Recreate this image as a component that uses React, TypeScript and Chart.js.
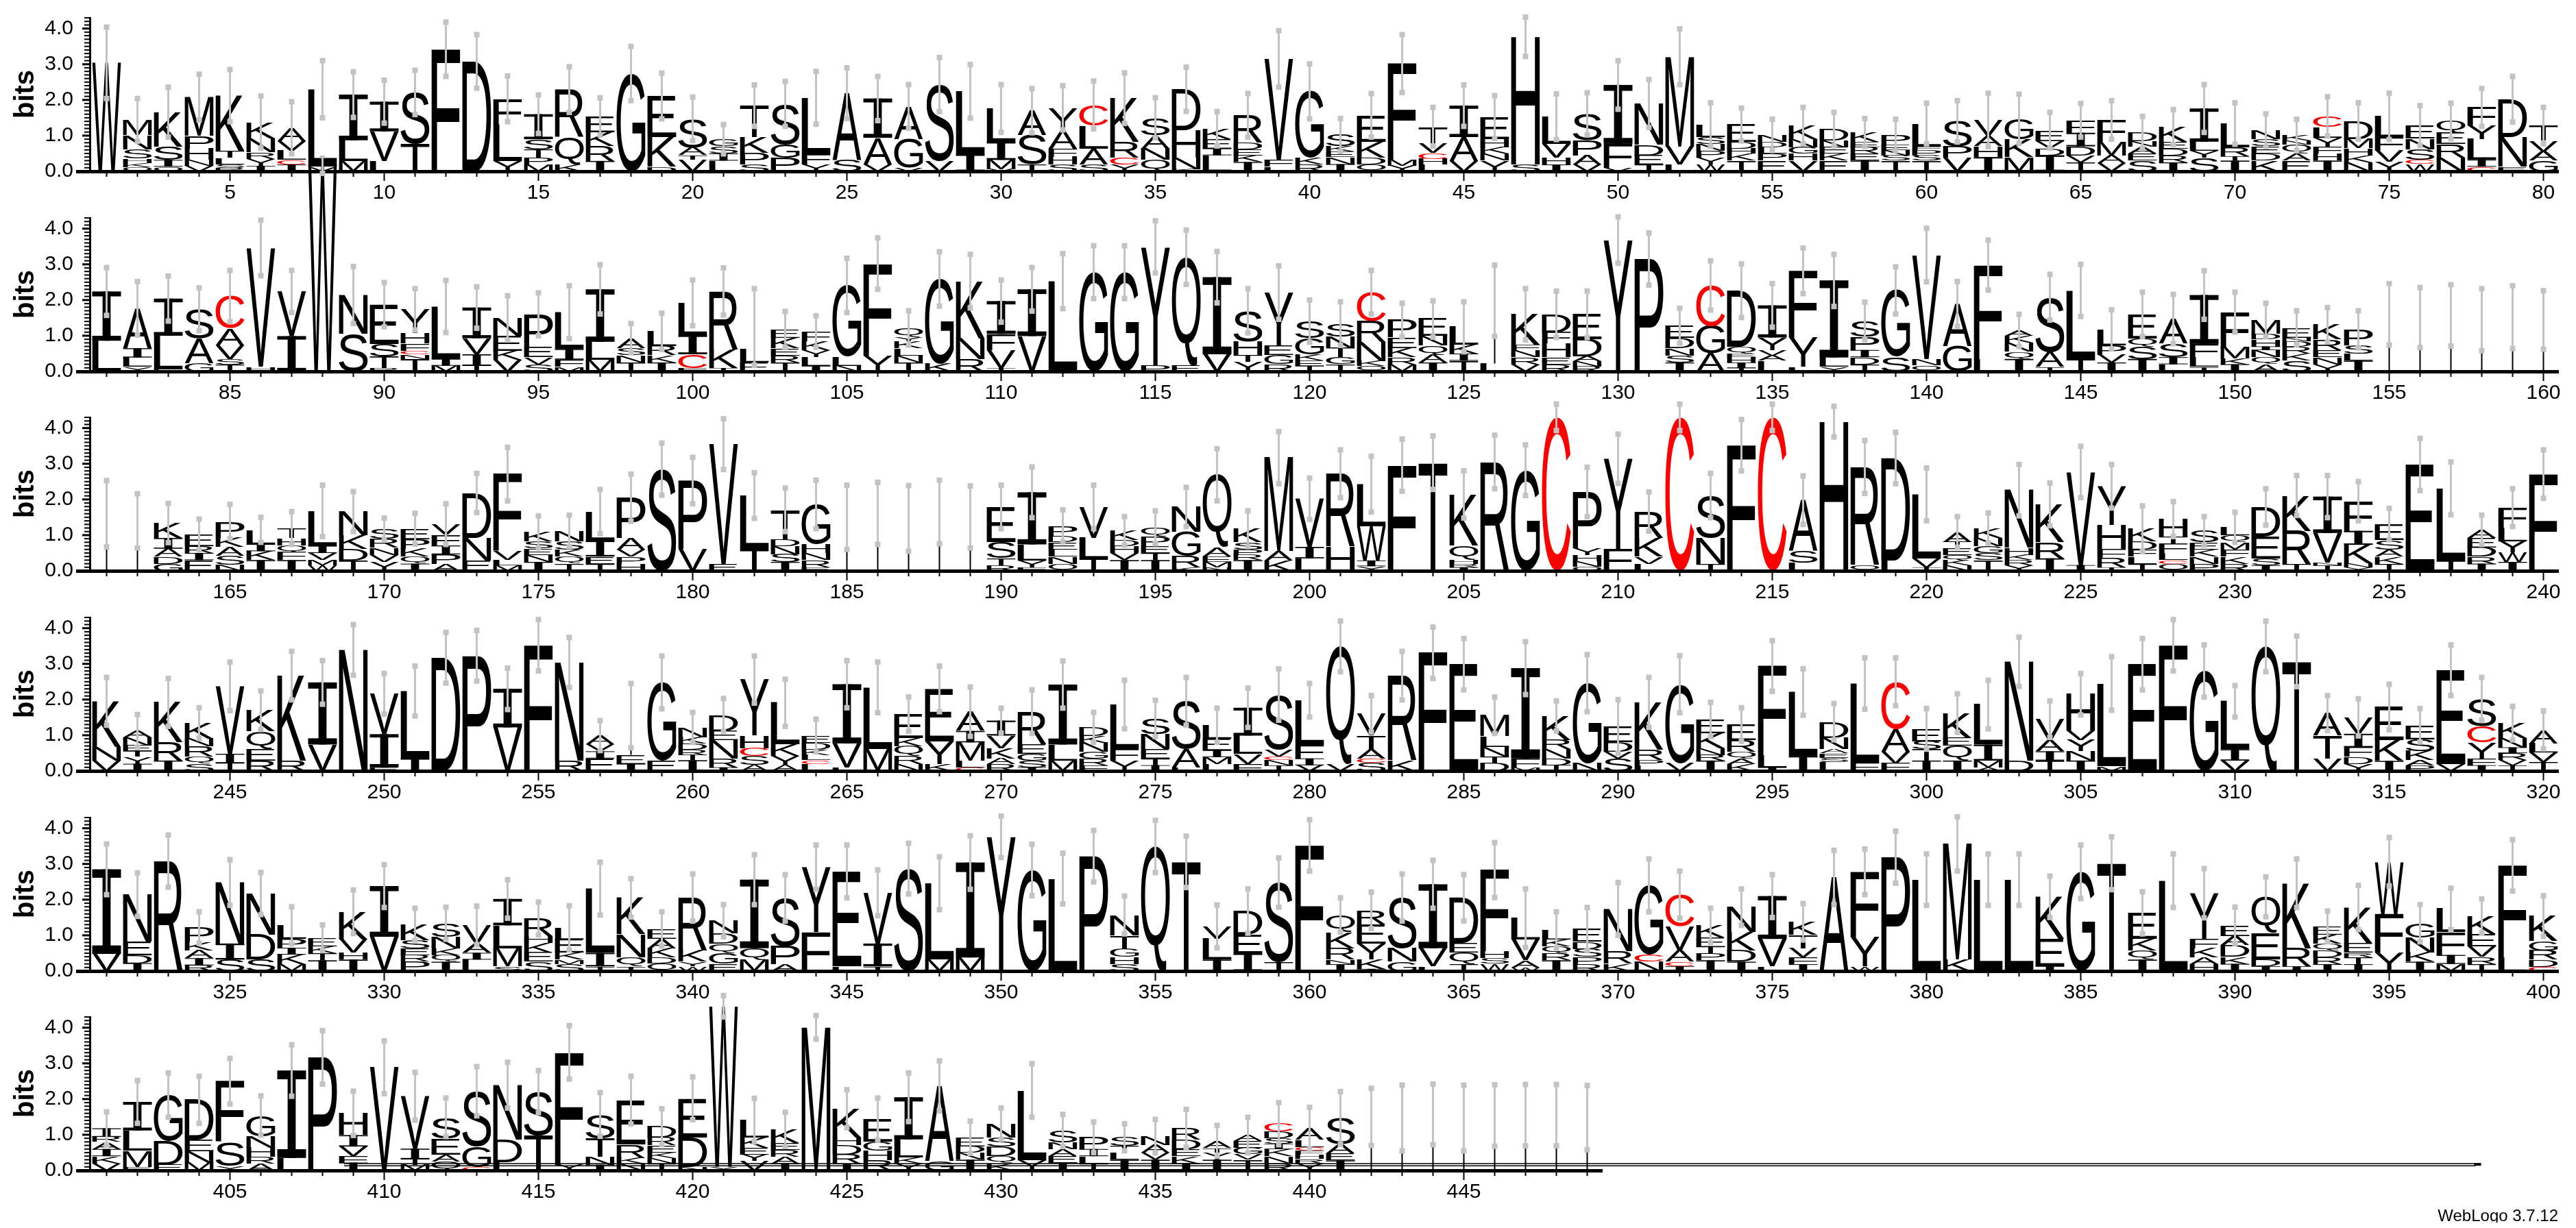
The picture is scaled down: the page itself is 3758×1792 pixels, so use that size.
import { useEffect, useRef } from "react";
import { Chart, registerables } from "chart.js";

Chart.register(...registerables);

// ---------------- DATA (letters bottom -> top, heights in bits) ----------------
const ROW1_STACKS = [
  "W3.04", "Q.12K.12H.13S.25N.4M.42", "Q.13I.19S.38K.96", "V.15N.17H.32P.35M1.09", "R.1S.1L.18T.19K1.55",
  "I.15Y.2R.18N.4K.45", "I.19C.13L.26V.26A.38", "V.13L2.17", "M.29L.58I1.28", "L.29V.83I.83",
  "T.77S1.44", "F3.42", "D3.08", "Y.29L1.02F.72", "M.19P.19T.23S.29I.7",
  "K.19Q.77R1.33", "I.29R.42K.38E.45", "G2.74", "D.13K.83E1.15", "V.32T.13A.22S.8",
  "L.3I.2S.2G.2", "S.19P.32K.45T.88", "P.38G.38S1.13", "Y.19F.29L1.58", "S.32A1.87",
  "V.19A.75I1.1", "V.1G.8A.92", "V.29S2.14", "I.48L1.76", "V.06M.26I.51L.93",
  "T.19S.83A.68", "S.19H.22F.22A.51Y.64", "S.19A.45L.64C.58", "Y.19C.19R.45K1.22", "Q.32N.32A.38S.48",
  "K.06N.32H.77D1.15", "L.45I.19E.26K.29", "I.26K.19E.16D.19R.77", "L.13F.19V2.83", "R.19K.19G1.86",
  "I.2N.2E.15K.15S.32", "Q.19D.19K.45E.74", "Y.16M.16F2.7", "L.19H.16C.16V.26T.48", "V.29A.67I.88",
  "Y.3N.19K.19H.22E.62", "S.19H3.58", "I.19H.19V.38L.77", "V.19A.26P.42S.74", "V.1F.67I1.65",
  "T.19E.26D.3N1.15", "L.19V.51M2.51", "W.19Y.19P.19N.19S.2L.35", "T.3K.19H.15D.19E.48", "E.3P.19L.19D.15N.19",
  "V.3H.19G.19N.22K.38", "E.3K.19E.19N.19D.31", "I.3E.19R.19E.15K.26", "T.3S.15N.15E.15P.27", "T.3S.15P.15F.1L.64",
  "V.38P.32S.7", "I.4H.3A.3V.44", "M.4K.5G.57", "I.45D.2V.2E.3", "T.25V.2D.25I.38F.35",
  "V.22A.22M.38F.62", "S.3E.2A.2N.15D.24", "I.25R.19D.19E.19K.42", "S.38Y.19L.26I.93", "I.3T.12R.25L.67",
  "K.3D.2E.2S.2N.25", "E.3A.2Q.25N.12K.15", "I.3H.2F.2Y.25L.3C.29", "N.25K.2H.2M.26D.5", "Y.26V.32F.38L.58",
  "W.2C.12S.3N.3E.36", "N.38R.38E.32Q.33", "C.13I.19L.58Y.38F.51", "E.13N.83D1.06", "G.3A.26V.3T.42",
];
const ROW1_ERRORS = [
  1.0, .6, .7, .64, .73, .73, .73, .8, .64, .6, .62, .76, .75, .64, .54, .64, .52, .76, .64, .61,
  .41, .58, .63, .74, .71, .62, .61, .76, .75, .67, .62, .62, .67, .71, .56, .62, .48, .61, .79, .77,
  .46, .61, .81, .54, .58, .6, .55, .64, .59, .68, .67, .78, .61, .46, .44, .51, .47, .39, .44, .57,
  .58, .75, .69, .5, .47, .54, .45, .49, .67, .58, .46, .44, .55, .51, .65, .56, .5, .53, .64, .51,
];

const ROW2_STACKS = [
  "L.86I1.38", "Y.13L.26I.26A1.12", "E.06L.94I1.04", "G.22A.7S.82", "T.19S.16V.38A.48C.9",
  "H.13V3.33", "I.99V1.25", "W5.8", "S1.05N1.09", "R.1T.32S.35E1.1",
  "T.35N.13C.1F.2H.29Y.67", "M.16I.19L1.47", "T.16I.32V.45I.86", "V.32K.26E.42N.5", "S.2V.2E.3P.9",
  "M.13F.2I.3L1.03", "M.32L.51I1.47", "T.25N.2S.2A.28", "I.25K.2R.26L.41", "F.1C.38I.54L.9",
  "T.1K.51R1.63", "E.25L.4|.6", "T.25R.2E.2K.3E.23", "I.15L.25Y.2K.25F.27", "N.16L.25G2.0",
  "Y.45F2.57", "T.25N.2L.2K.2Y.12Q.25", "K.22G2.37", "R.35N.58K1.6", "T.1V.5F.45I.92",
  "V.99I1.31", "L2.53", "G2.78", "G2.78", "P.16Y3.33",
  "E.16Q3.04", "V.48I2.16", "Y.26T.2H.38S.86", "R.2G.26E.26Y1.49", "T.15E.15K.18G.45S.48",
  "T.2G.2T.26N.32S.36", "Q.15K.14N.54R.58C.81", "M.2R.2K.26E.3P.48", "I.25A.22Q.26N.26E.48", "T.3I.2K.24L.51",
  "L.22|1.76", "V.2R.2N.2F.14K.86", "R.2E.2H.38F.32D.5", "R.14N.14A.14D.48E.7", "Y3.68",
  "P3.15", "I.25S.2N.2D.3E.33", "A.51G.77C1.13", "T.1I.15H.15E.1Q.19D1.57", "L.3A.15V.15Y.35I.9",
  "L.13Y.83F1.86", "Y.13L.26I2.16", "T.2D.2I.2P.37S.44", "S.41G1.86", "Q.17N.18V2.91",
  "G.7A1.19", "L.35F2.63", "I.35Q.2N.25K.2A.15", "T.13A.41S1.54", "T.35L1.92",
  "I.25V.22P.26L.45", "I.35S.35Q.23E.67", "L.2I.2S.38A.69", "T.13L.26F.38I1.37", "I.2K.16M.32F.98",
  "A.2Q.2N.2I.1H.2D.15M.39", "S.3K.2R.2D.15N.1E.27", "Y.2N.2E.2R.3K.41", "I.3L.2S.23P.45", "|1.6",
  "|1.51", "|1.57", "|1.45", "|1.52", "|1.44",
];
const ROW2_ERRORS = [
  .67, .75, .63, .6, .72, .78, .59, .25, .8, .62, .58, .73, .58, .62, .6, .74, .69, .41, .51, .64,
  .66, 1.07, .5, .44, .76, .72, .48, .76, .75, .59, .61, .77, .74, .74, .73, .76, .72, .62, .75, .59,
  .61, .61, .47, .51, .7, 1.0, .72, .65, .65, .65, .73, .49, .69, .75, .61, .64, .73, .53, .66, .75,
  .63, .7, .45, .64, .73, .55, .62, .69, .68, .56, .47, .48, .48, .52, .86, .84, .86, .87, .88, .82,
];

const ROW3_STACKS = [
  "|1.6", "|1.4", "G.2D.2A.22I.3K.42", "E.3I.2R.2E.32", "N.16S.26A.25K.26P.45",
  "I.3K.25I.2L.4", "I.3F.22Q.2H.2T.28", "W.15M.15V.2I.2L.98", "T.29D.32K.38N.67", "Y.25V.2N.2R.25S.28",
  "I.2Q.2K.22P.26E.3", "A.2P.26I.25F.3V.3", "E.29N.64D1.25", "M.15L.15V.25F2.16", "I.25N.2E.18S.2K.26",
  "T.2Q.2K.2S.22N.3", "T.2E.2I.45L.81", "H.2P.2V.2A.33P1.12", "S2.85", "V.61P1.92",
  "E.19V3.36", "T.61L1.5", "I.25S.22N.22D.2T.82", "E.1R.2N.2H.25G1.11", "|1.5",
  "|1.61", "|1.47", "|1.65", "|1.51", "R.15T.2S.45E.99",
  "F.1Y.19L.45I1.46", "Q.2N.2L.2E.2D.18P.28", "T.35L.58V.86", "I.3V.2H.2D.16K.26", "I.3T.2E.2P.26Q.26",
  "K.1R.32G.67N.7", "N.1M.15E.15A.25Q2.04", "I.3R.15P.15S.2K.38", "K.29A.26M2.62", "L.35I.32V1.35",
  "H.67R2.05", "Y.13I.16W.96L1.18", "F2.96", "T3.03", "I.1R.1H.13Q.38K1.43",
  "R3.05", "G2.82", "C4.3", "Q.12N.15H.17Y.2P1.57", "F.61Y2.53",
  "L.2V.2K.51R.75", "C4.3", "T.19N.74S1.18", "F3.52", "C4.3",
  "L.22S.32A1.44", "H4.18", "Q.16R2.75", "L.29D2.87", "T.1V.25L1.79",
  "N.15K.15Q.15E.2T.16A.28", "T.3S.2G.2N.22K.28", "Y.15R.15K.15H.2N1.61", "I.35R.45K1.06", "I.16V2.61",
  "T.1R.26F.25H.67Y1.09", "T.2L.2F.2D.22K.36", "Q.2C.1L.2F.26T.2H.49", "P.2N.2K.2E.2S.32", "R.2K.2F.2M.2Q.2L.22",
  "I.15S.2E.61D.83", "T.19R.93K.99", "T.15N.08V.83I1.02", "Y.1N.12K.51I.39F.83", "T.2K.2A.2S.26E.45",
  "E2.98", "T.29L2.02", "I.2R.2D.26E.26A.23", "I.25W.26Y.32L.38F.56", "F2.71",
];
const ROW3_ERRORS = [
  .93, .76, .55, .43, .48, .35, .46, .72, .56, .3, .43, .57, .55, .75, .45, .44, .62, .66, .73, .65,
  .71, .64, .61, .68, .9, .87, .92, .89, .87, .61, .71, .45, .61, .4, .46, .55, .73, .5, .73, .58,
  .67, .78, .73, .75, .66, .75, .71, .37, .69, .69, .55, .37, .62, .72, .37, .68, .43, .74, .72, .74,
  .43, .42, .72, .6, .72, .61, .64, .49, .4, .42, .51, .56, .59, .55, .44, .73, .74, .41, .53, .68,
];

const ROW4_STACKS = [
  "V.29N.38K1.28", "I.2Y.2T.15E.16N.22A.19", "I.29R.51K1.12", "S.2Q.2R.29N.22K.43", "T.22I.26V1.89",
  "R.29E.32Q.51K.58", "R.29K2.38", "V.74I1.74", "N3.39", "E.1I.93V1.13",
  "I.35L1.89", "D3.17", "P3.23", "V1.22I1.08", "F3.52",
  "R.29N2.75", "E.35I.2V.2A.24", "I.2E.25|1.1", "E.29G2.19", "I.3T.15R.15D.16K.19N.27",
  "I.1R.25N.51E.26D.45", "A.16S.26C.22H.35Y1.57", "A.16Y.26K.32L1.17", "L.2C.1L.15K.15D.19E.2", "L.1V.67I1.66",
  "M.61L1.73", "N.19R.22Q.29K.22E.67", "K.19Y.64E1.47", "C.1L.19M.51I.32A.54", "R.19A.16K.29V.35I.42",
  "I.1S.19G.19E.26R.92", "M.29L.45I1.68", "F.15R.19G.19N.26K.19D.24", "Y.29F.32L1.25", "I.16T.19E.26N.42S.44",
  "L.1A.51S1.34", "L.2M.19I.19E.32L.38", "F.2V.28L.51I.78", "T.15N.15C.1V.2S1.54", "V.16I.19F.38L1.25",
  "V.19Q3.3", "S.22C.13A.26T.38V.61", "K.29R2.38", "F3.31", "E2.99",
  "D.22T.19N.26L.3M.59", "M.1F.25I2.53", "T.16D.19N.26R.26K.67", "N.22G2.24", "S.35V.19D.26E.45",
  "L.15P.15R.29K1.33", "V.22G2.21", "I.29R.16N.19K.42E.38", "K.2A.15Q.19R.32E.44", "I.1L.34F2.5",
  "I.42L1.79", "L.25S.12E.12A.12N.32D.45", "F.22L2.23", "F.22V.32A.64C1.32", "I.29T.32S.22E.35",
  "I.29Q.42E.22K.69", "A.1M.19I.45L1.12", "D.29N2.77", "T.29I.26A.32V.58", "I.29N.26Y.32V.26H1.02",
  "M.13L2.32", "E2.99", "F3.52", "G2.8", "V.29I.32L1.34",
  "Q3.49", "T3.07", "V.35T.64A.63", "Y.2D.2F.26I.38V.46", "I.28K.58E.93",
  "P.15A.15K.26S.32E.4", "V.19E2.63", "I.16F.19Y.45C.45S.77", "T.15V.15R.2I.16N.26K.42", "T.25V.26L.26A.38",
];
const ROW4_ERRORS = [
  .67, .46, .67, .43, .68, .54, .68, .61, .71, .57, .7, .71, .71, .58, .72, .7, .42, .9, .74, .42,
  .46, .66, .66, .46, .66, .71, .48, .64, .69, .35, .61, .66, .42, .68, .51, .67, .48, .55, .72, .47,
  .71, .51, .68, .72, .72, .51, .74, .42, .8, .75, .7, .8, .48, .47, .71, .65, .51, .72, .67, .57,
  .54, .68, .69, .51, .58, .75, .72, .72, .73, .44, .71, .71, .49, .52, .64, .47, .71, .6, .47, .53,
];

const ROW5_STACKS = [
  "V.48I2.37", "I.22D.22E.38N1.32", "R3.08", "R.16I.2A.22K.22P.42", "S.32I.45N1.71",
  "S.32D.7N1.15", "M.2K.26I.19P.25L.38", "I.3T.2K.2E.23", "I.32H.19V.38K.77", "V.96I1.42",
  "P.26R.19E.19S.22K.45", "I.26Q.19K.19N.32S.38", "L.32I.19A.26V.51", "S.13M.51L.64I.74", "S.26E.26K.26H.19R.5",
  "S.19M.13K.19E.38L.32", "T.13I.38L1.8", "T.13Q.26N.64K1.02", "Q.22D.16K.26A.26E.28", "W.13Y.13K.31R1.49",
  "E.2G.3Q.26D.29N.36", "M.32Q.32I1.92", "A.19P.51S1.35", "F1.09Y1.82", "L.13E2.66",
  "T.13I.64V1.42", "S2.87", "M.32L2.14", "M.38I2.66", "Y3.76",
  "G2.83", "L2.59", "P3.22", "S.2H.2G.22T.38N.57", "Q3.49",
  "T3.06", "I.32L.58V.35", "I.5E.51D.67", "T.25S2.23", "F3.52",
  "I.19N.13R.32K.45Q.48", "I.06K.26Y.45E.54R.39", "G.26N.38S1.42", "L.13V.51I1.79", "T.2Q.32E.26D1.27",
  "W.2S.16H.19F2.28", "W.1A.2V.58L.6", "I.3R.2Q.2K.19L.26", "R.2P.2S.22D.2E.36", "K.2R.35N1.19",
  "N.26C.19G1.95", "I.13C.13A.32V.67C.89", "I.3P.19T.19E.26K.34", "I.26D.32K.51N.7", "L.13V.77I1.2",
  "I.19F.19V.26T.38K.36", "A2.62", "W.13Y.83F1.82", "P3.19", "L2.56",
  "K.32M3.24", "L2.56", "L2.56", "I.13E.77K1.18", "G2.78",
  "T3.02", "I.32Q.26K.32E.73", "L2.53", "H.19A.19K.26F.26Y1.28", "I.2K.2D.32A.26E.3",
  "I.13D.19E.74Q1.02", "I.13R.51K1.82", "I.19R.19D.19Q.19K.26E.23", "I.19T.19R.13E.26K1.01", "Y.51F1.09W1.46",
  "I.26K.26N.42G.4", "M.2I.25F.64L.65", "T.2R.2V.29E.35K.5", "L.38F2.58", "C.12D.2R.26G.26K.7",
];
const ROW5_ERRORS = [
  .71, .61, .73, .44, .64, .59, .52, .36, .61, .6, .45, .45, .54, .54, .46, .62, .74, .54, .48, .66,
  .45, .7, .65, .62, .74, .64, .71, .74, .75, .58, .72, .71, .72, .53, .73, .72, .6, .62, .69, .72,
  .48, .51, .66, .67, .65, .77, .82, .51, .6, .74, .74, .66, .48, .51, .6, .51, .76, .64, .73, .72,
  .76, .72, .72, .58, .75, .74, .59, .75, .69, .51, .56, .68, .43, .62, .68, .52, .58, .48, .72, .57,
];

const ROW6_STACKS = [
  "V.2K.2I.2A.2R.14I.24", "E.1M.45L.57I.8", "E.16D.67G1.28", "M.22N.32E.32D1.12", "Y.13S.67F1.7",
  "A.19R.19H.26N.32G.58", "L.35I2.45", "P3.17", "I.22F.19V.26I.32H.61", "V2.89",
  "M.16T.16I.29V1.47", "Q.25A.2E.45S.59", "C.09G.58S1.55", "L.23D.64N1.52", "T.99S1.22",
  "Y.16F3.15", "I.16N.23T.51S.67", "N.19K.16R.38E1.24", "T.2N.15K.15E.2R.22D.31", "N.1D.83E1.09",
  "Y.1W4.5", "V.26Y.19E.19K.29L.48", "I.2A.19R.19E.19K.38", "M4.01", "I.19R.26D.26H.22K.8",
  "R.29H.26G.25E.64", "Y.19K.17L.51I1.18", "G.26A2.11", "I.3N.19D.19E.25", "K.2Q.2D.26S.26N.39",
  "Y.29L1.95", "I.22E.19A.19N.19S.33", "T.2L.2I.2P.33", "I.3L.2T.19S.24", "I.3V.2A.22N.24",
  "I.2K.2E.2D.26R.32", "I.3Y.2T.13A.2", "T.3V.15G.19E.19A.16", "R.2N.2K.2I.15S.15D.19C.22", "Y.2R.12H.12F.12C.1L.2A.32",
  "I.28E.19A.26S.74", "|1.5", "|1.47", "|1.57", "|1.47",
  "|1.54", "|1.55", "|1.55", "|1.48",
];
const ROW6_ERRORS = [
  .46, .6, .62, .66, .64, .55, .72, .75, .62, .74, .67, .54, .69, .64, .59, .75, .61, .67, .5, .6,
  .3, .61, .48, .33, .53, .59, .68, .7, .45, .44, .75, .45, .43, .38, .47, .53, .43, .5, .59, .59,
  .74, .8, .92, .85, .92, .86, .86, .86, .9,
];

// trailing double rule of the last row (positions, bits)
const GAP_LINE_FROM = 408.7;
const GAP_LINE_TO = 477.8;
const GAP_LINE_BITS = [0.13, 0.19];

const ROW_STARTS = [1, 81, 161, 241, 321, 401];
const POSITIONS_PER_ROW = 80;
const LAST_POSITION = 449;
const Y_MAX = 4.32;
const Y_AXIS_TITLE = "bits";
const CREDIT = "WebLogo 3.7.12";

const ROWS = [
  { stacks: ROW1_STACKS, errors: ROW1_ERRORS },
  { stacks: ROW2_STACKS, errors: ROW2_ERRORS },
  { stacks: ROW3_STACKS, errors: ROW3_ERRORS },
  { stacks: ROW4_STACKS, errors: ROW4_ERRORS },
  { stacks: ROW5_STACKS, errors: ROW5_ERRORS },
  { stacks: ROW6_STACKS, errors: ROW6_ERRORS },
];

// ---------------- LAYOUT ----------------
const CANVAS_W = 3742;
const CANVAS_H = 400;
const TOP_PAD = 90;
const X_AXIS_H = 85;
const CHART_BOTTOM = CANVAS_H - X_AXIS_H; // 315
const FIRST_BASELINE = 250;
const ROW_STEP = 291.67;
const FONT_FAMILY = "'Liberation Sans', Arial, sans-serif";
const GLYPH_FONT = "200px 'Liberation Sans', Arial, sans-serif";
const ERR_COLOR = "#c3c3c3";

type Layer = { ch: string; v: number };

function parseStack(s: string): Layer[] {
  const out: Layer[] = [];
  const re = /([A-Z|])(\d*\.?\d+)/g;
  let m: RegExpExecArray | null;
  while ((m = re.exec(s))) out.push({ ch: m[1], v: parseFloat(m[2]) });
  return out;
}

const metricCache: Record<string, { l: number; r: number; a: number; d: number }> = {};

function drawGlyph(ctx: CanvasRenderingContext2D, ch: string, x: number, y: number, w: number, h: number) {
  ctx.save();
  ctx.fillStyle = ch === "C" ? "#ff0000" : "#000000";
  if (ch === "|") {
    ctx.fillRect(x + w / 2 - 1, y, 2, h);
    ctx.restore();
    return;
  }
  if (ch === "I") {
    const bh = Math.max(0.8, h * 0.1);
    const sw = w * 0.28;
    ctx.fillRect(x, y, w, bh);
    ctx.fillRect(x, y + h - bh, w, bh);
    ctx.fillRect(x + (w - sw) / 2, y, sw, h);
    ctx.restore();
    return;
  }
  ctx.font = GLYPH_FONT;
  ctx.textAlign = "left";
  ctx.textBaseline = "alphabetic";
  let m = metricCache[ch];
  if (!m) {
    const t = ctx.measureText(ch);
    m = { l: t.actualBoundingBoxLeft, r: t.actualBoundingBoxRight, a: t.actualBoundingBoxAscent, d: t.actualBoundingBoxDescent };
    metricCache[ch] = m;
  }
  const gw = m.l + m.r;
  const gh = m.a + m.d;
  ctx.translate(x, y);
  ctx.scale(w / gw, h / gh);
  ctx.fillText(ch, m.l, m.a);
  ctx.restore();
}

function buildConfig(rowIndex: number): any {
  const row = ROWS[rowIndex];
  const start = ROW_STARTS[rowIndex];
  const isLast = rowIndex === ROWS.length - 1;
  const parsed = row.stacks.map(parseStack);
  const totals = parsed.map((p) => p.reduce((a, b) => a + b.v, 0));
  const nLayers = Math.max(...parsed.map((p) => p.length));
  const labels = Array.from({ length: POSITIONS_PER_ROW }, (_, i) => String(start + i));
  const lastIdx = Math.min(POSITIONS_PER_ROW - 1, LAST_POSITION - start);

  const datasets: any[] = [];
  for (let k = 0; k < nLayers; k++) {
    datasets.push({
      data: labels.map((_, i) => (parsed[i] && parsed[i][k] ? parsed[i][k].v : null)),
      letters: labels.map((_, i) => (parsed[i] && parsed[i][k] ? parsed[i][k].ch : "")),
      backgroundColor: "rgba(0,0,0,0)",
      borderWidth: 0,
      categoryPercentage: 1,
      barPercentage: 1,
    });
  }

  const logoPlugin = {
    id: "logo" + rowIndex,
    afterDatasetsDraw(chart: any) {
      const ctx: CanvasRenderingContext2D = chart.ctx;
      const xs = chart.scales.x;
      const ys = chart.scales.y;
      const { left, bottom } = chart.chartArea;
      // letters
      chart.data.datasets.forEach((ds: any, k: number) => {
        const meta = chart.getDatasetMeta(k);
        meta.data.forEach((el: any, i: number) => {
          const ch = ds.letters[i];
          if (!ch) return;
          const p = el.getProps(["x", "y", "base", "width"], true);
          const h = p.base - p.y;
          if (!(h > 0.4)) return;
          drawGlyph(ctx, ch, p.x - p.width / 2 + 1.5, p.y, p.width - 3, h);
        });
      });
      // trailing double rule
      if (isLast) {
        ctx.save();
        ctx.strokeStyle = "#000";
        ctx.lineWidth = 1.5;
        const x0 = xs.getPixelForValue(GAP_LINE_FROM - start);
        const x1 = xs.getPixelForValue(GAP_LINE_TO - start);
        GAP_LINE_BITS.forEach((b) => {
          const yy = ys.getPixelForValue(b);
          ctx.beginPath();
          ctx.moveTo(x0, yy);
          ctx.lineTo(x1, yy);
          ctx.stroke();
        });
        ctx.fillRect(x1 - 2, ys.getPixelForValue(GAP_LINE_BITS[1]) - 1, 10, 4);
        ctx.restore();
      }
      // error bars
      ctx.save();
      ctx.strokeStyle = ERR_COLOR;
      ctx.fillStyle = ERR_COLOR;
      ctx.lineWidth = 3;
      totals.forEach((t, i) => {
        const e = row.errors[i];
        if (e == null) return;
        const x = xs.getPixelForValue(i);
        const yt = ys.getPixelForValue(t + e);
        const yb = ys.getPixelForValue(t - e);
        ctx.beginPath();
        ctx.moveTo(x, yt);
        ctx.lineTo(x, yb);
        ctx.stroke();
        ctx.fillRect(x - 4, yt - 4, 8, 8);
        ctx.fillRect(x - 4, yb - 4, 8, 8);
      });
      ctx.restore();
      // axes
      ctx.save();
      ctx.fillStyle = "#000";
      const yTop = ys.getPixelForValue(Y_MAX);
      ctx.fillRect(left - 3, yTop, 3, bottom - yTop);
      for (let v = 0; v <= Math.round(Y_MAX * 10); v++) {
        const yy = ys.getPixelForValue(v / 10);
        const major = v % 10 === 0;
        ctx.fillRect(left - (major ? 13 : 10), yy - (major ? 1.5 : 1), major ? 10 : 7, major ? 3 : 2);
      }
      const xEnd = xs.getPixelForValue(lastIdx) + xs.getPixelForValue(1) / 2 - xs.getPixelForValue(0) / 2;
      ctx.fillRect(left - 22, bottom - 2, xEnd - (left - 22), 5);
      for (let i = 0; i <= lastIdx; i++) {
        const x = xs.getPixelForValue(i);
        const p = start + i;
        ctx.fillRect(x - 1, bottom, 2, p % 5 === 0 ? 14 : 8);
      }
      if (isLast) {
        ctx.font = "24px " + FONT_FAMILY;
        ctx.textAlign = "right";
        ctx.textBaseline = "alphabetic";
        ctx.fillText(CREDIT, 3724, bottom + 74);
      }
      ctx.restore();
    },
  };

  return {
    type: "bar",
    data: { labels, datasets },
    options: {
      animation: false,
      responsive: false,
      devicePixelRatio: 1,
      events: [],
      layout: { padding: { top: TOP_PAD, right: 17, left: 0, bottom: 0 } },
      plugins: { legend: { display: false }, tooltip: { enabled: false }, title: { display: false } },
      scales: {
        x: {
          stacked: true,
          offset: true,
          grid: { display: false, drawTicks: false },
          border: { display: false },
          ticks: {
            autoSkip: false,
            maxRotation: 0,
            minRotation: 0,
            padding: 14,
            color: "#000",
            font: { family: FONT_FAMILY, size: 30 },
            callback: (_v: any, idx: number) => {
              const p = start + idx;
              return p % 5 === 0 && p <= LAST_POSITION ? String(p) : "";
            },
          },
          afterFit: (s: any) => {
            s.height = X_AXIS_H;
          },
        },
        y: {
          stacked: true,
          min: 0,
          max: Y_MAX,
          grid: { display: false, drawTicks: false },
          border: { display: false },
          ticks: {
            stepSize: 1,
            includeBounds: false,
            padding: 26,
            color: "#000",
            font: { family: FONT_FAMILY, size: 30 },
            callback: (v: any) => Number(v).toFixed(1),
          },
          title: {
            display: true,
            text: Y_AXIS_TITLE,
            color: "#000",
            font: { family: FONT_FAMILY, size: 40, weight: "bold" },
            padding: { top: 6, bottom: 0 },
          },
          afterFit: (s: any) => {
            s.width = 125;
          },
        },
      },
    },
    plugins: [logoPlugin],
  };
}

function LogoRow({ index }: { index: number }) {
  const ref = useRef<HTMLCanvasElement>(null);
  useEffect(() => {
    const chart = new Chart(ref.current as HTMLCanvasElement, buildConfig(index));
    return () => chart.destroy();
  }, [index]);
  const top = Math.round(FIRST_BASELINE + ROW_STEP * index - 8 - CHART_BOTTOM);
  return (
    <canvas
      ref={ref}
      width={CANVAS_W}
      height={CANVAS_H}
      style={{ position: "absolute", left: 0, top, width: CANVAS_W, height: CANVAS_H, display: "block" }}
    />
  );
}

export default function App() {
  return (
    <div style={{ position: "relative", width: CANVAS_W, height: 1776, overflow: "hidden", background: "#fff" }}>
      {ROWS.map((_, i) => (
        <LogoRow key={i} index={i} />
      ))}
    </div>
  );
}
